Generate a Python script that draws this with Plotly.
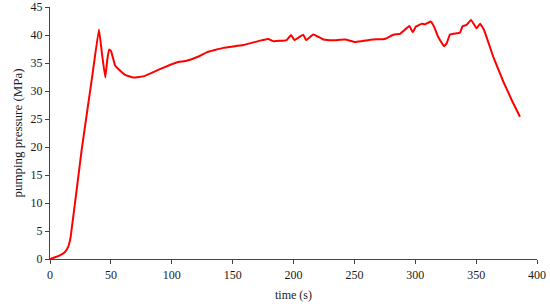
import plotly.graph_objects as go

time_s = [0, 4.1, 8.2, 12.3, 15, 17, 26, 35, 40.2, 42.5, 45.4, 47, 48.5, 50, 53.4, 57, 61.6, 68.4, 78,
          90.3, 104, 112.3, 123, 128.7, 142.4, 158.8, 172.5, 179.3, 183.4, 194.4, 198, 200.7, 208, 210.3,
          216.3, 224.5, 232.7, 242.3, 250.5, 256, 265.5, 275, 282, 287.5, 290.2, 295.2, 297.9, 300.6,
          305.3, 308, 312.6, 315.4, 319, 323.6, 325.8, 328.5, 334, 336.7, 339, 342.2, 345.8, 350.4,
          353.2, 356.5, 364.1, 372.3, 379.2, 386]
pressure_mpa = [0, 0.3, 0.65, 1.25, 2.2, 4, 19.5, 33.1, 41, 37, 32.4, 35.5, 37.4, 37.2, 34.6, 33.75, 32.9, 32.4, 32.7,
                33.9, 35.1, 35.4, 36.25, 36.9, 37.7, 38.2, 39, 39.3, 38.9, 39.1, 40, 39.1, 40.05, 39.1,
                40.1, 39.2, 39.05, 39.2, 38.75, 38.9, 39.2, 39.3, 40.05, 40.2, 40.7, 41.6, 40.5, 41.5,
                42, 41.9, 42.4, 41.5, 39.6, 38.0, 38.5, 40.1, 40.3, 40.4, 41.6, 41.8, 42.7, 41.2,
                42, 40.9, 36.1, 31.7, 28.4, 25.4]

x_ticks = [0, 50, 100, 150, 200, 250, 300, 350, 400]
y_ticks = [0, 5, 10, 15, 20, 25, 30, 35, 40, 45]

fig = go.Figure()
fig.add_trace(go.Scatter(x=time_s, y=pressure_mpa, mode="lines",
                         line=dict(color="#ff0000", width=2, shape="spline", smoothing=0.3),
                         showlegend=False, hoverinfo="skip"))

font = dict(family="Liberation Serif", size=12, color="#1a1a1a")
title_font = dict(family="Liberation Serif", size=13, color="#1a1a1a")
axis_common = dict(showgrid=False, zeroline=False, showline=True, linecolor="#444444", linewidth=1.2,
                   ticks="outside", ticklen=4, tickcolor="#444444", tickfont=font, automargin=False)
fig.update_xaxes(range=[0, 400], tickvals=x_ticks, title=dict(text="time (s)", font=font, standoff=10),
                 **axis_common)
fig.update_yaxes(range=[0, 45], tickvals=y_ticks,
                 title=dict(text="pumping pressure (MPa)", font=title_font, standoff=4),
                 **axis_common)
fig.update_layout(width=550, height=304, margin=dict(l=50, r=13, t=7, b=45),
                  plot_bgcolor="white", paper_bgcolor="white", font=font)
fig.write_html("out.html", config={"displayModeBar": False},
               post_script="document.body.style.margin='0';document.body.style.overflow='hidden';")
